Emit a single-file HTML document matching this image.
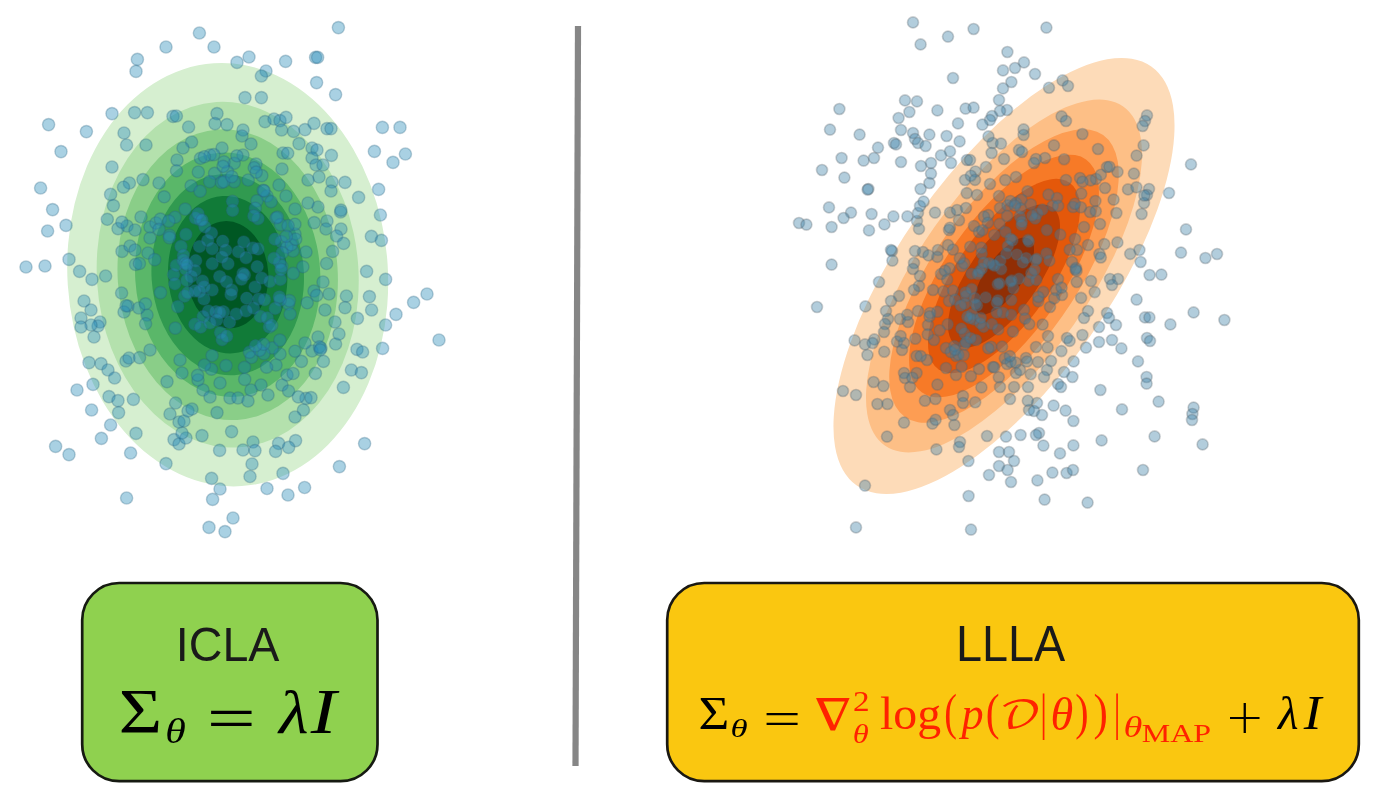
<!DOCTYPE html>
<html><head><meta charset="utf-8"><title>ICLA vs LLLA</title>
<style>
html,body{margin:0;padding:0;background:#fff;}
body{width:1387px;height:800px;overflow:hidden;}
svg{display:block;}
.sans{font-family:"Liberation Sans","DejaVu Sans",sans-serif;}
.serif{font-family:"Liberation Serif","DejaVu Serif",serif;}
.it{font-style:italic;}
.light{font-family:"DejaVu Sans Light","DejaVu Sans",sans-serif;font-weight:200;}
.math{font-family:"DejaVu Math TeX Gyre","Liberation Serif",serif;}
</style></head><body>
<svg width="1387" height="800" viewBox="0 0 1387 800">
<rect width="1387" height="800" fill="#ffffff"/>
<!-- left: ICLA contours -->
<g>
<ellipse cx="227.7" cy="274.7" rx="211.88" ry="160.24" fill="#d6efd0" transform="rotate(86.241 227.7 274.7)"/>
<ellipse cx="227.7" cy="274.7" rx="173.00" ry="130.83" fill="#b4e1ad" transform="rotate(86.241 227.7 274.7)"/>
<ellipse cx="227.7" cy="274.7" rx="145.52" ry="110.05" fill="#8ace88" transform="rotate(86.241 227.7 274.7)"/>
<ellipse cx="227.7" cy="274.7" rx="122.33" ry="92.51" fill="#5ab769" transform="rotate(86.241 227.7 274.7)"/>
<ellipse cx="227.7" cy="274.7" rx="100.73" ry="76.18" fill="#319a50" transform="rotate(86.241 227.7 274.7)"/>
<ellipse cx="227.7" cy="274.7" rx="78.81" ry="59.60" fill="#117b38" transform="rotate(86.241 227.7 274.7)"/>
<ellipse cx="227.7" cy="274.7" rx="53.69" ry="40.61" fill="#005723" transform="rotate(86.241 227.7 274.7)"/>
</g>
<g fill="rgba(40,140,185,0.40)" stroke="rgba(40,100,130,0.30)" stroke-width="1.4">
<circle cx="199.4" cy="33.0" r="6.1"/>
<circle cx="166.0" cy="47.0" r="6.1"/>
<circle cx="214.0" cy="47.0" r="6.1"/>
<circle cx="137.4" cy="59.4" r="6.1"/>
<circle cx="136.0" cy="71.4" r="6.1"/>
<circle cx="237.0" cy="62.4" r="6.1"/>
<circle cx="249.0" cy="57.0" r="6.1"/>
<circle cx="245.0" cy="97.6" r="6.1"/>
<circle cx="112.0" cy="113.6" r="6.1"/>
<circle cx="134.6" cy="112.6" r="6.1"/>
<circle cx="147.4" cy="112.6" r="6.1"/>
<circle cx="173.0" cy="116.4" r="6.1"/>
<circle cx="176.4" cy="116.0" r="6.1"/>
<circle cx="48.6" cy="124.6" r="6.1"/>
<circle cx="86.4" cy="131.6" r="6.1"/>
<circle cx="124.0" cy="133.0" r="6.1"/>
<circle cx="126.6" cy="145.0" r="6.1"/>
<circle cx="146.0" cy="145.0" r="6.1"/>
<circle cx="61.0" cy="151.6" r="6.1"/>
<circle cx="188.6" cy="127.0" r="6.1"/>
<circle cx="217.0" cy="113.6" r="6.1"/>
<circle cx="215.0" cy="123.6" r="6.1"/>
<circle cx="227.0" cy="124.6" r="6.1"/>
<circle cx="191.6" cy="142.0" r="6.1"/>
<circle cx="183.0" cy="148.0" r="6.1"/>
<circle cx="222.0" cy="148.0" r="6.1"/>
<circle cx="210.0" cy="155.0" r="6.1"/>
<circle cx="112.0" cy="167.0" r="6.1"/>
<circle cx="243.0" cy="130.0" r="6.1"/>
<circle cx="242.0" cy="136.0" r="6.1"/>
<circle cx="177.0" cy="160.0" r="6.1"/>
<circle cx="243.0" cy="155.0" r="6.1"/>
<circle cx="338.4" cy="27.6" r="6.1"/>
<circle cx="285.6" cy="61.4" r="6.1"/>
<circle cx="315.6" cy="57.4" r="6.1"/>
<circle cx="317.6" cy="57.4" r="6.1"/>
<circle cx="266.0" cy="71.0" r="6.1"/>
<circle cx="261.4" cy="76.0" r="6.1"/>
<circle cx="316.6" cy="82.6" r="6.1"/>
<circle cx="335.6" cy="94.6" r="6.1"/>
<circle cx="261.4" cy="97.6" r="6.1"/>
<circle cx="382.4" cy="127.4" r="6.1"/>
<circle cx="400.0" cy="127.4" r="6.1"/>
<circle cx="374.4" cy="151.4" r="6.1"/>
<circle cx="405.4" cy="154.0" r="6.1"/>
<circle cx="393.0" cy="162.4" r="6.1"/>
<circle cx="265.0" cy="121.6" r="6.1"/>
<circle cx="274.0" cy="119.0" r="6.1"/>
<circle cx="280.0" cy="120.6" r="6.1"/>
<circle cx="286.0" cy="117.4" r="6.1"/>
<circle cx="281.6" cy="130.0" r="6.1"/>
<circle cx="293.6" cy="131.4" r="6.1"/>
<circle cx="305.0" cy="129.6" r="6.1"/>
<circle cx="314.0" cy="123.4" r="6.1"/>
<circle cx="327.0" cy="128.6" r="6.1"/>
<circle cx="331.0" cy="128.6" r="6.1"/>
<circle cx="299.0" cy="143.6" r="6.1"/>
<circle cx="283.0" cy="153.0" r="6.1"/>
<circle cx="312.0" cy="148.0" r="6.1"/>
<circle cx="317.0" cy="150.0" r="6.1"/>
<circle cx="312.0" cy="158.0" r="6.1"/>
<circle cx="331.4" cy="155.4" r="6.1"/>
<circle cx="316.0" cy="165.0" r="6.1"/>
<circle cx="323.0" cy="165.0" r="6.1"/>
<circle cx="251.0" cy="144.0" r="6.1"/>
<circle cx="256.0" cy="164.0" r="6.1"/>
<circle cx="282.0" cy="169.0" r="6.1"/>
<circle cx="40.6" cy="188.0" r="6.1"/>
<circle cx="52.6" cy="209.6" r="6.1"/>
<circle cx="47.6" cy="231.0" r="6.1"/>
<circle cx="66.0" cy="225.4" r="6.1"/>
<circle cx="26.0" cy="267.0" r="6.1"/>
<circle cx="45.0" cy="266.0" r="6.1"/>
<circle cx="69.0" cy="259.4" r="6.1"/>
<circle cx="79.6" cy="271.4" r="6.1"/>
<circle cx="92.0" cy="279.4" r="6.1"/>
<circle cx="105.6" cy="276.0" r="6.1"/>
<circle cx="84.0" cy="301.0" r="6.1"/>
<circle cx="91.0" cy="310.0" r="6.1"/>
<circle cx="81.0" cy="318.0" r="6.1"/>
<circle cx="100.0" cy="322.0" r="6.1"/>
<circle cx="98.0" cy="326.0" r="6.1"/>
<circle cx="91.0" cy="325.0" r="6.1"/>
<circle cx="81.0" cy="327.0" r="6.1"/>
<circle cx="110.6" cy="194.4" r="6.1"/>
<circle cx="113.4" cy="205.6" r="6.1"/>
<circle cx="129.4" cy="183.0" r="6.1"/>
<circle cx="143.0" cy="179.6" r="6.1"/>
<circle cx="159.0" cy="183.0" r="6.1"/>
<circle cx="118.0" cy="228.6" r="6.1"/>
<circle cx="127.0" cy="226.0" r="6.1"/>
<circle cx="135.0" cy="230.0" r="6.1"/>
<circle cx="141.0" cy="217.0" r="6.1"/>
<circle cx="150.0" cy="227.0" r="6.1"/>
<circle cx="122.0" cy="251.4" r="6.1"/>
<circle cx="130.0" cy="246.0" r="6.1"/>
<circle cx="135.0" cy="250.0" r="6.1"/>
<circle cx="148.0" cy="253.0" r="6.1"/>
<circle cx="121.6" cy="293.0" r="6.1"/>
<circle cx="128.0" cy="306.0" r="6.1"/>
<circle cx="124.0" cy="312.0" r="6.1"/>
<circle cx="147.0" cy="315.0" r="6.1"/>
<circle cx="150.0" cy="238.0" r="6.1"/>
<circle cx="156.0" cy="223.0" r="6.1"/>
<circle cx="378.6" cy="189.4" r="6.1"/>
<circle cx="358.6" cy="197.4" r="6.1"/>
<circle cx="345.0" cy="182.4" r="6.1"/>
<circle cx="332.0" cy="182.0" r="6.1"/>
<circle cx="331.0" cy="191.0" r="6.1"/>
<circle cx="319.0" cy="177.0" r="6.1"/>
<circle cx="308.0" cy="180.0" r="6.1"/>
<circle cx="380.4" cy="215.0" r="6.1"/>
<circle cx="340.6" cy="212.0" r="6.1"/>
<circle cx="318.0" cy="207.0" r="6.1"/>
<circle cx="308.0" cy="203.0" r="6.1"/>
<circle cx="327.0" cy="221.0" r="6.1"/>
<circle cx="326.0" cy="229.0" r="6.1"/>
<circle cx="341.0" cy="229.0" r="6.1"/>
<circle cx="336.6" cy="236.0" r="6.1"/>
<circle cx="343.6" cy="243.4" r="6.1"/>
<circle cx="332.6" cy="251.4" r="6.1"/>
<circle cx="371.4" cy="236.4" r="6.1"/>
<circle cx="381.4" cy="240.4" r="6.1"/>
<circle cx="366.6" cy="271.4" r="6.1"/>
<circle cx="385.6" cy="279.4" r="6.1"/>
<circle cx="427.0" cy="294.0" r="6.1"/>
<circle cx="413.6" cy="302.4" r="6.1"/>
<circle cx="396.0" cy="314.4" r="6.1"/>
<circle cx="385.6" cy="325.0" r="6.1"/>
<circle cx="369.4" cy="296.6" r="6.1"/>
<circle cx="371.6" cy="310.0" r="6.1"/>
<circle cx="357.4" cy="318.4" r="6.1"/>
<circle cx="346.4" cy="296.0" r="6.1"/>
<circle cx="345.0" cy="307.6" r="6.1"/>
<circle cx="323.0" cy="282.0" r="6.1"/>
<circle cx="314.0" cy="291.0" r="6.1"/>
<circle cx="329.0" cy="294.0" r="6.1"/>
<circle cx="325.0" cy="310.0" r="6.1"/>
<circle cx="335.0" cy="322.0" r="6.1"/>
<circle cx="295.0" cy="209.0" r="6.1"/>
<circle cx="286.0" cy="196.0" r="6.1"/>
<circle cx="279.0" cy="185.0" r="6.1"/>
<circle cx="306.0" cy="252.0" r="6.1"/>
<circle cx="293.0" cy="251.0" r="6.1"/>
<circle cx="295.0" cy="234.0" r="6.1"/>
<circle cx="276.0" cy="218.0" r="6.1"/>
<circle cx="267.0" cy="196.0" r="6.1"/>
<circle cx="94.0" cy="337.0" r="6.1"/>
<circle cx="89.0" cy="362.6" r="6.1"/>
<circle cx="101.0" cy="363.6" r="6.1"/>
<circle cx="108.0" cy="370.0" r="6.1"/>
<circle cx="114.6" cy="378.0" r="6.1"/>
<circle cx="93.0" cy="384.4" r="6.1"/>
<circle cx="77.0" cy="390.0" r="6.1"/>
<circle cx="109.0" cy="396.6" r="6.1"/>
<circle cx="118.0" cy="400.6" r="6.1"/>
<circle cx="133.4" cy="399.4" r="6.1"/>
<circle cx="91.6" cy="410.0" r="6.1"/>
<circle cx="118.6" cy="412.6" r="6.1"/>
<circle cx="110.6" cy="425.0" r="6.1"/>
<circle cx="101.4" cy="438.4" r="6.1"/>
<circle cx="136.0" cy="433.4" r="6.1"/>
<circle cx="55.6" cy="446.4" r="6.1"/>
<circle cx="69.0" cy="454.6" r="6.1"/>
<circle cx="130.6" cy="453.0" r="6.1"/>
<circle cx="166.0" cy="463.6" r="6.1"/>
<circle cx="211.6" cy="478.4" r="6.1"/>
<circle cx="220.0" cy="489.0" r="6.1"/>
<circle cx="252.0" cy="464.0" r="6.1"/>
<circle cx="250.0" cy="476.5" r="6.1"/>
<circle cx="219.6" cy="450.4" r="6.1"/>
<circle cx="243.0" cy="450.0" r="6.1"/>
<circle cx="202.0" cy="435.6" r="6.1"/>
<circle cx="231.6" cy="431.6" r="6.1"/>
<circle cx="174.0" cy="439.6" r="6.1"/>
<circle cx="179.0" cy="444.0" r="6.1"/>
<circle cx="186.0" cy="438.0" r="6.1"/>
<circle cx="182.0" cy="433.0" r="6.1"/>
<circle cx="179.0" cy="422.0" r="6.1"/>
<circle cx="184.0" cy="421.0" r="6.1"/>
<circle cx="170.0" cy="414.0" r="6.1"/>
<circle cx="188.0" cy="411.0" r="6.1"/>
<circle cx="192.0" cy="409.0" r="6.1"/>
<circle cx="175.6" cy="403.0" r="6.1"/>
<circle cx="217.0" cy="412.6" r="6.1"/>
<circle cx="167.0" cy="381.6" r="6.1"/>
<circle cx="126.0" cy="361.0" r="6.1"/>
<circle cx="129.0" cy="358.0" r="6.1"/>
<circle cx="139.6" cy="357.6" r="6.1"/>
<circle cx="150.0" cy="350.0" r="6.1"/>
<circle cx="203.0" cy="390.0" r="6.1"/>
<circle cx="210.0" cy="397.0" r="6.1"/>
<circle cx="230.0" cy="398.0" r="6.1"/>
<circle cx="238.0" cy="398.0" r="6.1"/>
<circle cx="248.0" cy="401.0" r="6.1"/>
<circle cx="220.0" cy="383.0" r="6.1"/>
<circle cx="182.0" cy="373.0" r="6.1"/>
<circle cx="180.0" cy="360.0" r="6.1"/>
<circle cx="439.0" cy="340.0" r="6.1"/>
<circle cx="382.6" cy="348.4" r="6.1"/>
<circle cx="357.0" cy="349.4" r="6.1"/>
<circle cx="362.6" cy="352.0" r="6.1"/>
<circle cx="351.4" cy="370.0" r="6.1"/>
<circle cx="361.4" cy="372.6" r="6.1"/>
<circle cx="343.4" cy="387.4" r="6.1"/>
<circle cx="335.6" cy="344.0" r="6.1"/>
<circle cx="339.0" cy="334.0" r="6.1"/>
<circle cx="323.4" cy="361.4" r="6.1"/>
<circle cx="315.4" cy="373.4" r="6.1"/>
<circle cx="301.4" cy="361.4" r="6.1"/>
<circle cx="312.0" cy="351.0" r="6.1"/>
<circle cx="321.0" cy="348.0" r="6.1"/>
<circle cx="305.0" cy="343.0" r="6.1"/>
<circle cx="318.0" cy="337.0" r="6.1"/>
<circle cx="287.0" cy="375.0" r="6.1"/>
<circle cx="282.0" cy="385.0" r="6.1"/>
<circle cx="288.6" cy="391.0" r="6.1"/>
<circle cx="268.0" cy="395.0" r="6.1"/>
<circle cx="261.0" cy="385.0" r="6.1"/>
<circle cx="306.0" cy="398.4" r="6.1"/>
<circle cx="311.0" cy="397.6" r="6.1"/>
<circle cx="303.4" cy="410.0" r="6.1"/>
<circle cx="295.0" cy="417.0" r="6.1"/>
<circle cx="364.6" cy="443.6" r="6.1"/>
<circle cx="339.4" cy="466.6" r="6.1"/>
<circle cx="295.6" cy="440.6" r="6.1"/>
<circle cx="278.6" cy="443.4" r="6.1"/>
<circle cx="288.6" cy="447.4" r="6.1"/>
<circle cx="275.6" cy="451.4" r="6.1"/>
<circle cx="253.0" cy="442.0" r="6.1"/>
<circle cx="255.0" cy="450.6" r="6.1"/>
<circle cx="283.0" cy="473.4" r="6.1"/>
<circle cx="267.0" cy="488.5" r="6.1"/>
<circle cx="304.6" cy="487.5" r="6.1"/>
<circle cx="288.0" cy="495.0" r="6.1"/>
<circle cx="251.0" cy="390.0" r="6.1"/>
<circle cx="276.0" cy="365.0" r="6.1"/>
<circle cx="280.0" cy="354.0" r="6.1"/>
<circle cx="212.6" cy="499.4" r="6.1"/>
<circle cx="126.6" cy="498.0" r="6.1"/>
<circle cx="233.0" cy="518.0" r="6.1"/>
<circle cx="209.0" cy="527.4" r="6.1"/>
<circle cx="225.0" cy="531.6" r="6.1"/>
<circle cx="211.5" cy="233.0" r="6.1"/>
<circle cx="222.7" cy="241.2" r="6.1"/>
<circle cx="243.7" cy="242.0" r="6.1"/>
<circle cx="199.5" cy="246.5" r="6.1"/>
<circle cx="212.2" cy="248.7" r="6.1"/>
<circle cx="225.7" cy="250.2" r="6.1"/>
<circle cx="238.5" cy="251.7" r="6.1"/>
<circle cx="252.7" cy="248.0" r="6.1"/>
<circle cx="195.7" cy="260.7" r="6.1"/>
<circle cx="212.2" cy="263.7" r="6.1"/>
<circle cx="228.0" cy="263.7" r="6.1"/>
<circle cx="222.0" cy="257.0" r="6.1"/>
<circle cx="246.0" cy="257.7" r="6.1"/>
<circle cx="257.2" cy="266.7" r="6.1"/>
<circle cx="244.5" cy="275.0" r="6.1"/>
<circle cx="243.0" cy="273.5" r="6.1"/>
<circle cx="219.7" cy="276.5" r="6.1"/>
<circle cx="202.5" cy="281.0" r="6.1"/>
<circle cx="191.2" cy="276.5" r="6.1"/>
<circle cx="231.7" cy="290.0" r="6.1"/>
<circle cx="231.0" cy="294.5" r="6.1"/>
<circle cx="212.2" cy="290.0" r="6.1"/>
<circle cx="199.5" cy="291.5" r="6.1"/>
<circle cx="255.0" cy="287.0" r="6.1"/>
<circle cx="261.7" cy="278.0" r="6.1"/>
<circle cx="246.7" cy="298.2" r="6.1"/>
<circle cx="258.7" cy="299.0" r="6.1"/>
<circle cx="204.0" cy="299.0" r="6.1"/>
<circle cx="216.0" cy="311.7" r="6.1"/>
<circle cx="223.5" cy="311.7" r="6.1"/>
<circle cx="219.7" cy="312.5" r="6.1"/>
<circle cx="236.2" cy="314.0" r="6.1"/>
<circle cx="246.0" cy="311.0" r="6.1"/>
<circle cx="208.5" cy="311.0" r="6.1"/>
<circle cx="229.5" cy="322.2" r="6.1"/>
<circle cx="216.7" cy="320.0" r="6.1"/>
<circle cx="253.5" cy="308.0" r="6.1"/>
<circle cx="195.0" cy="270.5" r="6.1"/>
<circle cx="207.7" cy="240.5" r="6.1"/>
<circle cx="226.5" cy="281.7" r="6.1"/>
<circle cx="121.9" cy="222.1" r="6.1"/>
<circle cx="107.3" cy="219.3" r="6.1"/>
<circle cx="287.7" cy="153.2" r="6.1"/>
<circle cx="340.9" cy="210.1" r="6.1"/>
<circle cx="298.4" cy="396.9" r="6.1"/>
<circle cx="123.5" cy="187.2" r="6.1"/>
<circle cx="319.5" cy="346.9" r="6.1"/>
<circle cx="126.1" cy="305.7" r="6.1"/>
<circle cx="138.7" cy="308.0" r="6.1"/>
<circle cx="314.2" cy="222.6" r="6.1"/>
<circle cx="326.6" cy="263.5" r="6.1"/>
<circle cx="320.3" cy="349.8" r="6.1"/>
<circle cx="293.1" cy="373.5" r="6.1"/>
<circle cx="266.6" cy="367.2" r="6.1"/>
<circle cx="214.6" cy="173.3" r="6.1"/>
<circle cx="316.7" cy="295.4" r="6.1"/>
<circle cx="145.6" cy="323.7" r="6.1"/>
<circle cx="234.2" cy="163.3" r="6.1"/>
<circle cx="200.5" cy="158.3" r="6.1"/>
<circle cx="227.5" cy="171.6" r="6.1"/>
<circle cx="145.5" cy="303.8" r="6.1"/>
<circle cx="160.4" cy="219.1" r="6.1"/>
<circle cx="295.0" cy="351.2" r="6.1"/>
<circle cx="135.6" cy="264.4" r="6.1"/>
<circle cx="213.8" cy="154.6" r="6.1"/>
<circle cx="236.9" cy="155.8" r="6.1"/>
<circle cx="244.7" cy="379.4" r="6.1"/>
<circle cx="198.0" cy="380.0" r="6.1"/>
<circle cx="204.4" cy="156.7" r="6.1"/>
<circle cx="197.6" cy="375.3" r="6.1"/>
<circle cx="254.2" cy="167.7" r="6.1"/>
<circle cx="176.5" cy="170.8" r="6.1"/>
<circle cx="294.9" cy="224.2" r="6.1"/>
<circle cx="224.0" cy="161.9" r="6.1"/>
<circle cx="164.2" cy="196.8" r="6.1"/>
<circle cx="261.8" cy="175.6" r="6.1"/>
<circle cx="139.4" cy="263.5" r="6.1"/>
<circle cx="223.1" cy="166.3" r="6.1"/>
<circle cx="198.3" cy="172.0" r="6.1"/>
<circle cx="307.2" cy="302.8" r="6.1"/>
<circle cx="256.2" cy="172.1" r="6.1"/>
<circle cx="251.5" cy="357.5" r="6.1"/>
<circle cx="212.1" cy="355.5" r="6.1"/>
<circle cx="160.5" cy="292.6" r="6.1"/>
<circle cx="248.2" cy="180.0" r="6.1"/>
<circle cx="263.2" cy="190.4" r="6.1"/>
<circle cx="169.5" cy="235.3" r="6.1"/>
<circle cx="302.9" cy="266.8" r="6.1"/>
<circle cx="280.5" cy="224.6" r="6.1"/>
<circle cx="272.2" cy="347.9" r="6.1"/>
<circle cx="281.4" cy="241.9" r="6.1"/>
<circle cx="169.4" cy="237.6" r="6.1"/>
<circle cx="185.2" cy="209.1" r="6.1"/>
<circle cx="211.4" cy="369.2" r="6.1"/>
<circle cx="175.0" cy="217.2" r="6.1"/>
<circle cx="279.9" cy="340.1" r="6.1"/>
<circle cx="286.8" cy="247.2" r="6.1"/>
<circle cx="175.3" cy="328.1" r="6.1"/>
<circle cx="271.1" cy="201.7" r="6.1"/>
<circle cx="191.1" cy="185.8" r="6.1"/>
<circle cx="221.5" cy="182.4" r="6.1"/>
<circle cx="277.4" cy="217.1" r="6.1"/>
<circle cx="288.1" cy="225.7" r="6.1"/>
<circle cx="288.5" cy="304.0" r="6.1"/>
<circle cx="154.7" cy="259.6" r="6.1"/>
<circle cx="263.9" cy="353.6" r="6.1"/>
<circle cx="226.0" cy="365.6" r="6.1"/>
<circle cx="249.5" cy="352.1" r="6.1"/>
<circle cx="259.7" cy="350.3" r="6.1"/>
<circle cx="244.5" cy="367.3" r="6.1"/>
<circle cx="291.3" cy="244.8" r="6.1"/>
<circle cx="263.5" cy="344.2" r="6.1"/>
<circle cx="209.7" cy="181.6" r="6.1"/>
<circle cx="234.2" cy="181.6" r="6.1"/>
<circle cx="264.1" cy="190.9" r="6.1"/>
<circle cx="257.0" cy="200.8" r="6.1"/>
<circle cx="293.2" cy="273.4" r="6.1"/>
<circle cx="204.4" cy="365.0" r="6.1"/>
<circle cx="200.1" cy="191.2" r="6.1"/>
<circle cx="159.0" cy="229.4" r="6.1"/>
<circle cx="295.7" cy="239.2" r="6.1"/>
<circle cx="290.1" cy="314.0" r="6.1"/>
<circle cx="289.4" cy="300.6" r="6.1"/>
<circle cx="286.3" cy="236.3" r="6.1"/>
<circle cx="223.8" cy="181.8" r="6.1"/>
<circle cx="168.8" cy="221.1" r="6.1"/>
<circle cx="231.8" cy="176.6" r="6.1"/>
<circle cx="269.9" cy="281.5" r="6.1"/>
<circle cx="181.0" cy="246.4" r="6.1"/>
<circle cx="184.6" cy="296.1" r="6.1"/>
<circle cx="185.9" cy="234.4" r="6.1"/>
<circle cx="280.1" cy="300.0" r="6.1"/>
<circle cx="177.8" cy="306.6" r="6.1"/>
<circle cx="185.9" cy="269.3" r="6.1"/>
<circle cx="260.4" cy="316.4" r="6.1"/>
<circle cx="232.5" cy="201.3" r="6.1"/>
<circle cx="203.1" cy="316.6" r="6.1"/>
<circle cx="264.5" cy="299.6" r="6.1"/>
<circle cx="200.3" cy="220.0" r="6.1"/>
<circle cx="220.5" cy="332.6" r="6.1"/>
<circle cx="281.8" cy="266.2" r="6.1"/>
<circle cx="279.6" cy="262.6" r="6.1"/>
<circle cx="173.6" cy="274.6" r="6.1"/>
<circle cx="280.3" cy="279.5" r="6.1"/>
<circle cx="204.8" cy="226.8" r="6.1"/>
<circle cx="176.3" cy="265.3" r="6.1"/>
<circle cx="187.7" cy="292.7" r="6.1"/>
<circle cx="195.5" cy="218.2" r="6.1"/>
<circle cx="183.4" cy="255.4" r="6.1"/>
<circle cx="279.3" cy="296.9" r="6.1"/>
<circle cx="198.1" cy="213.7" r="6.1"/>
<circle cx="202.1" cy="220.0" r="6.1"/>
<circle cx="282.2" cy="252.8" r="6.1"/>
<circle cx="281.0" cy="269.6" r="6.1"/>
<circle cx="274.0" cy="258.3" r="6.1"/>
<circle cx="267.3" cy="317.9" r="6.1"/>
<circle cx="255.5" cy="345.7" r="6.1"/>
<circle cx="275.2" cy="308.4" r="6.1"/>
<circle cx="183.2" cy="260.2" r="6.1"/>
<circle cx="194.8" cy="324.2" r="6.1"/>
<circle cx="222.1" cy="339.7" r="6.1"/>
<circle cx="185.3" cy="263.4" r="6.1"/>
<circle cx="174.8" cy="283.8" r="6.1"/>
<circle cx="255.3" cy="208.2" r="6.1"/>
<circle cx="258.1" cy="218.7" r="6.1"/>
<circle cx="269.3" cy="327.0" r="6.1"/>
<circle cx="200.6" cy="327.2" r="6.1"/>
<circle cx="274.9" cy="239.2" r="6.1"/>
<circle cx="226.7" cy="336.2" r="6.1"/>
<circle cx="209.9" cy="322.9" r="6.1"/>
<circle cx="186.9" cy="280.4" r="6.1"/>
<circle cx="271.6" cy="325.2" r="6.1"/>
<circle cx="232.6" cy="210.4" r="6.1"/>
<circle cx="253.8" cy="215.9" r="6.1"/>
<circle cx="187.0" cy="264.7" r="6.1"/>
<circle cx="258.1" cy="248.9" r="6.1"/>
<circle cx="204.1" cy="286.8" r="6.1"/>
<circle cx="195.1" cy="290.9" r="6.1"/>
<circle cx="241.5" cy="279.1" r="6.1"/>
</g>
<!-- divider -->
<line x1="578" y1="26" x2="575.5" y2="766" stroke="#868686" stroke-width="6.2"/>
<!-- right: LLLA contours -->
<g>
<ellipse cx="1004" cy="276" rx="256.09" ry="105.10" fill="#fddbb8" transform="rotate(125.109 1004 276)"/>
<ellipse cx="1004" cy="276" rx="207.24" ry="85.05" fill="#fdbf86" transform="rotate(125.109 1004 276)"/>
<ellipse cx="1004" cy="276" rx="172.35" ry="70.74" fill="#fd9d53" transform="rotate(125.109 1004 276)"/>
<ellipse cx="1004" cy="276" rx="142.52" ry="58.49" fill="#f77a27" transform="rotate(125.109 1004 276)"/>
<ellipse cx="1004" cy="276" rx="114.12" ry="46.84" fill="#e4580a" transform="rotate(125.109 1004 276)"/>
<ellipse cx="1004" cy="276" rx="84.08" ry="34.51" fill="#be3f02" transform="rotate(125.109 1004 276)"/>
<ellipse cx="1004" cy="276" rx="45.11" ry="18.51" fill="#912e04" transform="rotate(125.109 1004 276)"/>
</g>
<g fill="rgba(62,130,168,0.40)" stroke="rgba(90,100,105,0.30)" stroke-width="1.6">
<circle cx="913.0" cy="22.4" r="5.5"/>
<circle cx="973.6" cy="29.0" r="5.5"/>
<circle cx="948.0" cy="36.6" r="5.5"/>
<circle cx="920.6" cy="44.4" r="5.5"/>
<circle cx="1007.4" cy="52.0" r="5.5"/>
<circle cx="1024.0" cy="62.4" r="5.5"/>
<circle cx="1015.0" cy="68.0" r="5.5"/>
<circle cx="1003.0" cy="70.4" r="5.5"/>
<circle cx="953.0" cy="78.0" r="5.5"/>
<circle cx="1011.4" cy="82.0" r="5.5"/>
<circle cx="1003.0" cy="88.4" r="5.5"/>
<circle cx="999.0" cy="100.0" r="5.5"/>
<circle cx="905.0" cy="100.4" r="5.5"/>
<circle cx="917.0" cy="101.4" r="5.5"/>
<circle cx="839.4" cy="109.0" r="5.5"/>
<circle cx="909.4" cy="112.0" r="5.5"/>
<circle cx="937.4" cy="110.4" r="5.5"/>
<circle cx="965.6" cy="108.6" r="5.5"/>
<circle cx="973.6" cy="107.6" r="5.5"/>
<circle cx="1007.0" cy="110.0" r="5.5"/>
<circle cx="1000.0" cy="111.0" r="5.5"/>
<circle cx="992.0" cy="116.0" r="5.5"/>
<circle cx="990.0" cy="120.0" r="5.5"/>
<circle cx="982.4" cy="124.6" r="5.5"/>
<circle cx="898.6" cy="118.0" r="5.5"/>
<circle cx="958.0" cy="123.4" r="5.5"/>
<circle cx="830.0" cy="129.6" r="5.5"/>
<circle cx="901.0" cy="130.0" r="5.5"/>
<circle cx="859.6" cy="134.6" r="5.5"/>
<circle cx="913.0" cy="133.0" r="5.5"/>
<circle cx="929.4" cy="134.6" r="5.5"/>
<circle cx="946.6" cy="136.0" r="5.5"/>
<circle cx="915.0" cy="139.0" r="5.5"/>
<circle cx="918.0" cy="143.0" r="5.5"/>
<circle cx="959.6" cy="141.4" r="5.5"/>
<circle cx="894.0" cy="143.0" r="5.5"/>
<circle cx="896.0" cy="144.4" r="5.5"/>
<circle cx="878.0" cy="147.6" r="5.5"/>
<circle cx="925.6" cy="146.0" r="5.5"/>
<circle cx="950.0" cy="151.4" r="5.5"/>
<circle cx="941.0" cy="155.4" r="5.5"/>
<circle cx="841.6" cy="158.0" r="5.5"/>
<circle cx="863.6" cy="160.6" r="5.5"/>
<circle cx="874.0" cy="158.0" r="5.5"/>
<circle cx="901.0" cy="162.0" r="5.5"/>
<circle cx="931.0" cy="163.0" r="5.5"/>
<circle cx="921.0" cy="166.0" r="5.5"/>
<circle cx="951.0" cy="163.0" r="5.5"/>
<circle cx="822.0" cy="170.0" r="5.5"/>
<circle cx="967.0" cy="160.0" r="5.5"/>
<circle cx="970.0" cy="160.0" r="5.5"/>
<circle cx="992.6" cy="143.0" r="5.5"/>
<circle cx="1001.0" cy="143.6" r="5.5"/>
<circle cx="991.6" cy="153.0" r="5.5"/>
<circle cx="1004.0" cy="159.0" r="5.5"/>
<circle cx="1023.6" cy="129.4" r="5.5"/>
<circle cx="1023.6" cy="135.0" r="5.5"/>
<circle cx="1019.0" cy="150.0" r="5.5"/>
<circle cx="1022.0" cy="152.0" r="5.5"/>
<circle cx="986.0" cy="167.0" r="5.5"/>
<circle cx="1035.0" cy="74.0" r="5.5"/>
<circle cx="1046.4" cy="27.6" r="5.5"/>
<circle cx="1062.6" cy="80.4" r="5.5"/>
<circle cx="1068.0" cy="86.0" r="5.5"/>
<circle cx="1061.6" cy="116.4" r="5.5"/>
<circle cx="1066.0" cy="121.0" r="5.5"/>
<circle cx="1082.4" cy="134.0" r="5.5"/>
<circle cx="1054.0" cy="145.4" r="5.5"/>
<circle cx="1098.0" cy="149.0" r="5.5"/>
<circle cx="1147.0" cy="115.4" r="5.5"/>
<circle cx="1145.0" cy="121.0" r="5.5"/>
<circle cx="1142.6" cy="126.0" r="5.5"/>
<circle cx="1143.6" cy="145.4" r="5.5"/>
<circle cx="1136.6" cy="155.6" r="5.5"/>
<circle cx="1191.0" cy="164.4" r="5.5"/>
<circle cx="1107.0" cy="167.0" r="5.5"/>
<circle cx="1045.0" cy="158.0" r="5.5"/>
<circle cx="1036.0" cy="159.0" r="5.5"/>
<circle cx="1034.0" cy="163.0" r="5.5"/>
<circle cx="844.4" cy="177.6" r="5.5"/>
<circle cx="868.4" cy="189.0" r="5.5"/>
<circle cx="867.6" cy="189.6" r="5.5"/>
<circle cx="829.0" cy="207.4" r="5.5"/>
<circle cx="851.0" cy="212.6" r="5.5"/>
<circle cx="843.6" cy="218.0" r="5.5"/>
<circle cx="871.6" cy="214.0" r="5.5"/>
<circle cx="799.0" cy="223.0" r="5.5"/>
<circle cx="806.4" cy="224.6" r="5.5"/>
<circle cx="831.6" cy="227.0" r="5.5"/>
<circle cx="869.0" cy="230.4" r="5.5"/>
<circle cx="884.4" cy="224.4" r="5.5"/>
<circle cx="893.4" cy="216.4" r="5.5"/>
<circle cx="907.4" cy="216.4" r="5.5"/>
<circle cx="917.0" cy="221.0" r="5.5"/>
<circle cx="918.0" cy="213.0" r="5.5"/>
<circle cx="920.0" cy="206.0" r="5.5"/>
<circle cx="923.6" cy="201.6" r="5.5"/>
<circle cx="920.6" cy="189.0" r="5.5"/>
<circle cx="929.4" cy="183.0" r="5.5"/>
<circle cx="931.0" cy="173.6" r="5.5"/>
<circle cx="831.6" cy="264.6" r="5.5"/>
<circle cx="892.0" cy="251.0" r="5.5"/>
<circle cx="891.0" cy="250.0" r="5.5"/>
<circle cx="892.4" cy="260.6" r="5.5"/>
<circle cx="879.0" cy="282.0" r="5.5"/>
<circle cx="817.0" cy="307.0" r="5.5"/>
<circle cx="915.0" cy="251.0" r="5.5"/>
<circle cx="923.0" cy="252.0" r="5.5"/>
<circle cx="914.0" cy="263.0" r="5.5"/>
<circle cx="913.0" cy="269.0" r="5.5"/>
<circle cx="920.0" cy="276.0" r="5.5"/>
<circle cx="919.0" cy="286.0" r="5.5"/>
<circle cx="914.0" cy="290.0" r="5.5"/>
<circle cx="899.0" cy="296.0" r="5.5"/>
<circle cx="891.0" cy="301.0" r="5.5"/>
<circle cx="886.0" cy="311.0" r="5.5"/>
<circle cx="888.0" cy="319.0" r="5.5"/>
<circle cx="885.0" cy="324.0" r="5.5"/>
<circle cx="900.0" cy="319.0" r="5.5"/>
<circle cx="908.0" cy="322.0" r="5.5"/>
<circle cx="933.0" cy="290.0" r="5.5"/>
<circle cx="918.0" cy="311.0" r="5.5"/>
<circle cx="930.0" cy="313.0" r="5.5"/>
<circle cx="928.0" cy="325.0" r="5.5"/>
<circle cx="941.0" cy="274.0" r="5.5"/>
<circle cx="938.0" cy="250.0" r="5.5"/>
<circle cx="948.0" cy="245.0" r="5.5"/>
<circle cx="949.0" cy="230.0" r="5.5"/>
<circle cx="935.0" cy="212.6" r="5.5"/>
<circle cx="950.0" cy="212.6" r="5.5"/>
<circle cx="957.0" cy="210.0" r="5.5"/>
<circle cx="966.0" cy="208.0" r="5.5"/>
<circle cx="965.0" cy="180.0" r="5.5"/>
<circle cx="977.0" cy="195.0" r="5.5"/>
<circle cx="990.0" cy="184.0" r="5.5"/>
<circle cx="999.0" cy="196.0" r="5.5"/>
<circle cx="1016.0" cy="177.0" r="5.5"/>
<circle cx="1016.0" cy="203.0" r="5.5"/>
<circle cx="1000.0" cy="208.0" r="5.5"/>
<circle cx="974.0" cy="226.0" r="5.5"/>
<circle cx="979.0" cy="232.0" r="5.5"/>
<circle cx="962.0" cy="266.0" r="5.5"/>
<circle cx="949.0" cy="301.0" r="5.5"/>
<circle cx="966.0" cy="296.0" r="5.5"/>
<circle cx="972.0" cy="314.0" r="5.5"/>
<circle cx="1169.0" cy="193.0" r="5.5"/>
<circle cx="1149.0" cy="189.0" r="5.5"/>
<circle cx="1147.0" cy="195.0" r="5.5"/>
<circle cx="1144.0" cy="203.0" r="5.5"/>
<circle cx="1141.6" cy="214.0" r="5.5"/>
<circle cx="1128.0" cy="189.4" r="5.5"/>
<circle cx="1186.0" cy="229.4" r="5.5"/>
<circle cx="1181.0" cy="252.6" r="5.5"/>
<circle cx="1205.4" cy="258.0" r="5.5"/>
<circle cx="1217.0" cy="254.0" r="5.5"/>
<circle cx="1139.4" cy="250.0" r="5.5"/>
<circle cx="1140.6" cy="262.0" r="5.5"/>
<circle cx="1149.6" cy="275.0" r="5.5"/>
<circle cx="1161.4" cy="274.6" r="5.5"/>
<circle cx="1136.6" cy="299.6" r="5.5"/>
<circle cx="1193.6" cy="312.4" r="5.5"/>
<circle cx="1224.4" cy="320.0" r="5.5"/>
<circle cx="1145.0" cy="317.4" r="5.5"/>
<circle cx="1149.4" cy="317.4" r="5.5"/>
<circle cx="1170.4" cy="324.4" r="5.5"/>
<circle cx="1117.4" cy="242.4" r="5.5"/>
<circle cx="1116.4" cy="213.0" r="5.5"/>
<circle cx="1113.6" cy="199.6" r="5.5"/>
<circle cx="1105.0" cy="188.0" r="5.5"/>
<circle cx="1096.0" cy="179.0" r="5.5"/>
<circle cx="1095.4" cy="201.0" r="5.5"/>
<circle cx="1100.0" cy="224.0" r="5.5"/>
<circle cx="1090.0" cy="212.0" r="5.5"/>
<circle cx="1084.0" cy="227.0" r="5.5"/>
<circle cx="1088.0" cy="245.0" r="5.5"/>
<circle cx="1099.4" cy="254.0" r="5.5"/>
<circle cx="1091.0" cy="281.0" r="5.5"/>
<circle cx="1110.0" cy="279.0" r="5.5"/>
<circle cx="1118.0" cy="279.0" r="5.5"/>
<circle cx="1112.0" cy="285.0" r="5.5"/>
<circle cx="1088.0" cy="311.0" r="5.5"/>
<circle cx="1084.0" cy="318.0" r="5.5"/>
<circle cx="1107.0" cy="313.0" r="5.5"/>
<circle cx="1109.0" cy="318.0" r="5.5"/>
<circle cx="1116.0" cy="325.0" r="5.5"/>
<circle cx="1099.0" cy="327.0" r="5.5"/>
<circle cx="1050.0" cy="307.0" r="5.5"/>
<circle cx="1062.0" cy="295.0" r="5.5"/>
<circle cx="1076.0" cy="268.0" r="5.5"/>
<circle cx="1072.0" cy="262.0" r="5.5"/>
<circle cx="1077.0" cy="250.0" r="5.5"/>
<circle cx="1075.0" cy="239.0" r="5.5"/>
<circle cx="1057.0" cy="198.0" r="5.5"/>
<circle cx="1080.0" cy="178.0" r="5.5"/>
<circle cx="1066.0" cy="180.0" r="5.5"/>
<circle cx="1073.0" cy="207.0" r="5.5"/>
<circle cx="1058.0" cy="279.0" r="5.5"/>
<circle cx="1056.0" cy="290.0" r="5.5"/>
<circle cx="854.6" cy="340.4" r="5.5"/>
<circle cx="865.0" cy="344.4" r="5.5"/>
<circle cx="874.4" cy="339.4" r="5.5"/>
<circle cx="867.4" cy="355.0" r="5.5"/>
<circle cx="884.0" cy="332.0" r="5.5"/>
<circle cx="843.0" cy="391.0" r="5.5"/>
<circle cx="856.0" cy="395.0" r="5.5"/>
<circle cx="873.6" cy="382.0" r="5.5"/>
<circle cx="883.4" cy="386.0" r="5.5"/>
<circle cx="877.4" cy="404.0" r="5.5"/>
<circle cx="887.4" cy="404.0" r="5.5"/>
<circle cx="887.0" cy="436.6" r="5.5"/>
<circle cx="904.0" cy="422.6" r="5.5"/>
<circle cx="932.4" cy="423.6" r="5.5"/>
<circle cx="954.4" cy="425.0" r="5.5"/>
<circle cx="936.4" cy="449.4" r="5.5"/>
<circle cx="960.0" cy="442.0" r="5.5"/>
<circle cx="959.0" cy="447.0" r="5.5"/>
<circle cx="865.0" cy="485.6" r="5.5"/>
<circle cx="968.4" cy="461.0" r="5.5"/>
<circle cx="987.0" cy="436.0" r="5.5"/>
<circle cx="1006.0" cy="436.6" r="5.5"/>
<circle cx="1020.6" cy="435.0" r="5.5"/>
<circle cx="999.0" cy="452.0" r="5.5"/>
<circle cx="1009.0" cy="452.0" r="5.5"/>
<circle cx="1014.0" cy="461.0" r="5.5"/>
<circle cx="999.0" cy="466.0" r="5.5"/>
<circle cx="1007.6" cy="470.0" r="5.5"/>
<circle cx="989.0" cy="475.0" r="5.5"/>
<circle cx="1011.0" cy="482.0" r="5.5"/>
<circle cx="897.0" cy="341.6" r="5.5"/>
<circle cx="904.0" cy="343.0" r="5.5"/>
<circle cx="902.0" cy="350.0" r="5.5"/>
<circle cx="904.0" cy="373.0" r="5.5"/>
<circle cx="905.0" cy="378.0" r="5.5"/>
<circle cx="916.6" cy="373.0" r="5.5"/>
<circle cx="910.0" cy="387.0" r="5.5"/>
<circle cx="916.6" cy="356.0" r="5.5"/>
<circle cx="927.0" cy="360.0" r="5.5"/>
<circle cx="935.4" cy="399.0" r="5.5"/>
<circle cx="950.0" cy="410.0" r="5.5"/>
<circle cx="953.0" cy="415.0" r="5.5"/>
<circle cx="963.0" cy="396.0" r="5.5"/>
<circle cx="963.0" cy="403.0" r="5.5"/>
<circle cx="981.4" cy="387.4" r="5.5"/>
<circle cx="1000.0" cy="387.0" r="5.5"/>
<circle cx="1010.0" cy="399.0" r="5.5"/>
<circle cx="1014.0" cy="387.0" r="5.5"/>
<circle cx="1016.0" cy="373.0" r="5.5"/>
<circle cx="1020.0" cy="370.0" r="5.5"/>
<circle cx="1028.0" cy="387.0" r="5.5"/>
<circle cx="1029.0" cy="410.0" r="5.5"/>
<circle cx="979.0" cy="369.0" r="5.5"/>
<circle cx="956.0" cy="375.0" r="5.5"/>
<circle cx="946.0" cy="368.0" r="5.5"/>
<circle cx="956.0" cy="356.0" r="5.5"/>
<circle cx="934.0" cy="340.0" r="5.5"/>
<circle cx="946.0" cy="348.0" r="5.5"/>
<circle cx="993.0" cy="367.0" r="5.5"/>
<circle cx="1007.0" cy="364.0" r="5.5"/>
<circle cx="976.0" cy="340.0" r="5.5"/>
<circle cx="1026.0" cy="358.0" r="5.5"/>
<circle cx="1147.0" cy="338.0" r="5.5"/>
<circle cx="1150.0" cy="341.0" r="5.5"/>
<circle cx="1099.0" cy="342.0" r="5.5"/>
<circle cx="1112.0" cy="340.0" r="5.5"/>
<circle cx="1121.4" cy="348.4" r="5.5"/>
<circle cx="1086.0" cy="347.6" r="5.5"/>
<circle cx="1082.4" cy="335.0" r="5.5"/>
<circle cx="1067.0" cy="338.0" r="5.5"/>
<circle cx="1048.0" cy="336.0" r="5.5"/>
<circle cx="1036.0" cy="347.0" r="5.5"/>
<circle cx="1138.0" cy="361.4" r="5.5"/>
<circle cx="1073.6" cy="361.4" r="5.5"/>
<circle cx="1051.0" cy="361.0" r="5.5"/>
<circle cx="1038.0" cy="362.0" r="5.5"/>
<circle cx="1146.6" cy="377.0" r="5.5"/>
<circle cx="1146.6" cy="383.6" r="5.5"/>
<circle cx="1100.4" cy="390.0" r="5.5"/>
<circle cx="1072.4" cy="377.0" r="5.5"/>
<circle cx="1064.0" cy="372.0" r="5.5"/>
<circle cx="1047.0" cy="370.0" r="5.5"/>
<circle cx="1044.0" cy="377.0" r="5.5"/>
<circle cx="1058.0" cy="384.0" r="5.5"/>
<circle cx="1061.0" cy="387.0" r="5.5"/>
<circle cx="1158.6" cy="401.6" r="5.5"/>
<circle cx="1122.0" cy="409.4" r="5.5"/>
<circle cx="1193.6" cy="407.6" r="5.5"/>
<circle cx="1192.4" cy="414.0" r="5.5"/>
<circle cx="1192.0" cy="420.0" r="5.5"/>
<circle cx="1037.0" cy="403.0" r="5.5"/>
<circle cx="1034.0" cy="411.0" r="5.5"/>
<circle cx="1042.0" cy="415.0" r="5.5"/>
<circle cx="1053.6" cy="405.6" r="5.5"/>
<circle cx="1065.6" cy="410.6" r="5.5"/>
<circle cx="1073.4" cy="421.0" r="5.5"/>
<circle cx="1154.6" cy="436.4" r="5.5"/>
<circle cx="1202.6" cy="444.4" r="5.5"/>
<circle cx="1101.6" cy="440.4" r="5.5"/>
<circle cx="1073.4" cy="445.4" r="5.5"/>
<circle cx="1039.0" cy="433.0" r="5.5"/>
<circle cx="1036.0" cy="435.0" r="5.5"/>
<circle cx="1043.4" cy="445.6" r="5.5"/>
<circle cx="1060.0" cy="453.4" r="5.5"/>
<circle cx="1143.0" cy="470.0" r="5.5"/>
<circle cx="1052.4" cy="472.6" r="5.5"/>
<circle cx="1066.6" cy="473.0" r="5.5"/>
<circle cx="1073.0" cy="470.0" r="5.5"/>
<circle cx="1037.4" cy="480.4" r="5.5"/>
<circle cx="856.0" cy="527.4" r="5.5"/>
<circle cx="971.0" cy="529.6" r="5.5"/>
<circle cx="968.6" cy="496.0" r="5.5"/>
<circle cx="1044.6" cy="499.6" r="5.5"/>
<circle cx="1087.6" cy="502.6" r="5.5"/>
<circle cx="1049.0" cy="87.8" r="5.5"/>
<circle cx="988.5" cy="136.4" r="5.5"/>
<circle cx="1130.2" cy="253.9" r="5.5"/>
<circle cx="872.6" cy="343.1" r="5.5"/>
<circle cx="975.4" cy="171.5" r="5.5"/>
<circle cx="1069.6" cy="340.9" r="5.5"/>
<circle cx="1027.8" cy="400.7" r="5.5"/>
<circle cx="865.4" cy="306.4" r="5.5"/>
<circle cx="1061.4" cy="351.1" r="5.5"/>
<circle cx="919.0" cy="228.9" r="5.5"/>
<circle cx="1144.4" cy="195.5" r="5.5"/>
<circle cx="970.9" cy="175.7" r="5.5"/>
<circle cx="1133.9" cy="173.6" r="5.5"/>
<circle cx="1136.4" cy="187.3" r="5.5"/>
<circle cx="949.9" cy="227.8" r="5.5"/>
<circle cx="1030.7" cy="374.2" r="5.5"/>
<circle cx="1094.7" cy="292.1" r="5.5"/>
<circle cx="928.5" cy="255.4" r="5.5"/>
<circle cx="1047.6" cy="347.5" r="5.5"/>
<circle cx="966.7" cy="193.1" r="5.5"/>
<circle cx="1027.0" cy="361.5" r="5.5"/>
<circle cx="884.2" cy="351.7" r="5.5"/>
<circle cx="1100.8" cy="257.5" r="5.5"/>
<circle cx="1104.3" cy="244.1" r="5.5"/>
<circle cx="975.0" cy="179.9" r="5.5"/>
<circle cx="1081.1" cy="297.9" r="5.5"/>
<circle cx="1117.5" cy="171.9" r="5.5"/>
<circle cx="998.8" cy="377.3" r="5.5"/>
<circle cx="937.3" cy="256.9" r="5.5"/>
<circle cx="1042.6" cy="324.5" r="5.5"/>
<circle cx="900.6" cy="336.0" r="5.5"/>
<circle cx="1100.9" cy="174.7" r="5.5"/>
<circle cx="1109.4" cy="166.7" r="5.5"/>
<circle cx="1010.7" cy="362.0" r="5.5"/>
<circle cx="907.2" cy="314.8" r="5.5"/>
<circle cx="935.6" cy="419.8" r="5.5"/>
<circle cx="1076.6" cy="270.9" r="5.5"/>
<circle cx="924.9" cy="400.7" r="5.5"/>
<circle cx="1015.6" cy="362.5" r="5.5"/>
<circle cx="959.0" cy="220.3" r="5.5"/>
<circle cx="975.2" cy="402.3" r="5.5"/>
<circle cx="1005.2" cy="180.1" r="5.5"/>
<circle cx="1076.7" cy="282.0" r="5.5"/>
<circle cx="912.4" cy="377.7" r="5.5"/>
<circle cx="1080.9" cy="207.3" r="5.5"/>
<circle cx="1090.6" cy="180.4" r="5.5"/>
<circle cx="1029.3" cy="324.1" r="5.5"/>
<circle cx="1004.8" cy="358.4" r="5.5"/>
<circle cx="920.7" cy="356.1" r="5.5"/>
<circle cx="953.0" cy="249.6" r="5.5"/>
<circle cx="949.6" cy="268.3" r="5.5"/>
<circle cx="1061.6" cy="287.6" r="5.5"/>
<circle cx="945.0" cy="270.7" r="5.5"/>
<circle cx="1095.8" cy="211.2" r="5.5"/>
<circle cx="1081.3" cy="193.6" r="5.5"/>
<circle cx="970.9" cy="376.3" r="5.5"/>
<circle cx="994.2" cy="367.2" r="5.5"/>
<circle cx="1082.5" cy="181.7" r="5.5"/>
<circle cx="915.3" cy="338.7" r="5.5"/>
<circle cx="988.3" cy="215.1" r="5.5"/>
<circle cx="937.4" cy="384.6" r="5.5"/>
<circle cx="984.0" cy="216.6" r="5.5"/>
<circle cx="1064.1" cy="159.2" r="5.5"/>
<circle cx="1075.5" cy="269.5" r="5.5"/>
<circle cx="1009.9" cy="356.1" r="5.5"/>
<circle cx="1054.2" cy="298.4" r="5.5"/>
<circle cx="929.5" cy="316.4" r="5.5"/>
<circle cx="927.7" cy="334.4" r="5.5"/>
<circle cx="1074.9" cy="203.8" r="5.5"/>
<circle cx="1027.6" cy="191.3" r="5.5"/>
<circle cx="947.2" cy="279.6" r="5.5"/>
<circle cx="999.6" cy="223.9" r="5.5"/>
<circle cx="964.2" cy="263.4" r="5.5"/>
<circle cx="958.3" cy="354.8" r="5.5"/>
<circle cx="937.4" cy="311.8" r="5.5"/>
<circle cx="943.5" cy="291.4" r="5.5"/>
<circle cx="991.1" cy="346.7" r="5.5"/>
<circle cx="1038.3" cy="301.3" r="5.5"/>
<circle cx="1048.4" cy="194.6" r="5.5"/>
<circle cx="947.7" cy="324.3" r="5.5"/>
<circle cx="988.3" cy="348.3" r="5.5"/>
<circle cx="1021.5" cy="199.7" r="5.5"/>
<circle cx="959.8" cy="258.2" r="5.5"/>
<circle cx="950.8" cy="352.0" r="5.5"/>
<circle cx="1007.5" cy="205.4" r="5.5"/>
<circle cx="987.8" cy="222.8" r="5.5"/>
<circle cx="961.6" cy="366.8" r="5.5"/>
<circle cx="1020.7" cy="208.4" r="5.5"/>
<circle cx="1002.1" cy="346.6" r="5.5"/>
<circle cx="963.7" cy="355.0" r="5.5"/>
<circle cx="982.4" cy="230.2" r="5.5"/>
<circle cx="981.4" cy="247.6" r="5.5"/>
<circle cx="954.4" cy="346.1" r="5.5"/>
<circle cx="1012.9" cy="331.6" r="5.5"/>
<circle cx="1043.3" cy="291.9" r="5.5"/>
<circle cx="1052.7" cy="205.9" r="5.5"/>
<circle cx="939.6" cy="330.3" r="5.5"/>
<circle cx="970.2" cy="246.7" r="5.5"/>
<circle cx="1058.2" cy="205.9" r="5.5"/>
<circle cx="953.0" cy="290.6" r="5.5"/>
<circle cx="1030.8" cy="204.3" r="5.5"/>
<circle cx="1060.2" cy="234.6" r="5.5"/>
<circle cx="1007.1" cy="216.0" r="5.5"/>
<circle cx="955.0" cy="349.8" r="5.5"/>
<circle cx="1010.4" cy="201.0" r="5.5"/>
<circle cx="1024.0" cy="309.8" r="5.5"/>
<circle cx="1014.9" cy="205.6" r="5.5"/>
<circle cx="1025.0" cy="318.5" r="5.5"/>
<circle cx="1069.7" cy="249.7" r="5.5"/>
<circle cx="1038.3" cy="296.9" r="5.5"/>
<circle cx="1028.7" cy="280.9" r="5.5"/>
<circle cx="979.2" cy="271.6" r="5.5"/>
<circle cx="1031.2" cy="273.3" r="5.5"/>
<circle cx="1037.2" cy="213.7" r="5.5"/>
<circle cx="955.0" cy="299.6" r="5.5"/>
<circle cx="994.3" cy="234.9" r="5.5"/>
<circle cx="983.6" cy="326.9" r="5.5"/>
<circle cx="964.6" cy="333.6" r="5.5"/>
<circle cx="1046.8" cy="230.1" r="5.5"/>
<circle cx="1035.7" cy="260.0" r="5.5"/>
<circle cx="1046.5" cy="253.2" r="5.5"/>
<circle cx="973.9" cy="319.4" r="5.5"/>
<circle cx="980.3" cy="323.4" r="5.5"/>
<circle cx="1036.3" cy="279.9" r="5.5"/>
<circle cx="1019.9" cy="216.5" r="5.5"/>
<circle cx="1036.8" cy="258.8" r="5.5"/>
<circle cx="981.8" cy="253.5" r="5.5"/>
<circle cx="966.2" cy="342.0" r="5.5"/>
<circle cx="1005.5" cy="232.0" r="5.5"/>
<circle cx="1012.5" cy="240.3" r="5.5"/>
<circle cx="970.0" cy="318.3" r="5.5"/>
<circle cx="964.6" cy="344.5" r="5.5"/>
<circle cx="965.5" cy="292.3" r="5.5"/>
<circle cx="1035.2" cy="218.6" r="5.5"/>
<circle cx="971.7" cy="288.9" r="5.5"/>
<circle cx="1021.9" cy="221.7" r="5.5"/>
<circle cx="980.8" cy="317.9" r="5.5"/>
<circle cx="1049.3" cy="260.7" r="5.5"/>
<circle cx="989.0" cy="263.0" r="5.5"/>
<circle cx="981.9" cy="268.8" r="5.5"/>
<circle cx="964.9" cy="303.7" r="5.5"/>
<circle cx="983.8" cy="262.5" r="5.5"/>
<circle cx="960.8" cy="305.5" r="5.5"/>
<circle cx="961.3" cy="328.6" r="5.5"/>
<circle cx="1011.3" cy="300.0" r="5.5"/>
<circle cx="1032.2" cy="215.6" r="5.5"/>
<circle cx="1002.9" cy="312.7" r="5.5"/>
<circle cx="967.2" cy="316.6" r="5.5"/>
<circle cx="1010.6" cy="238.8" r="5.5"/>
<circle cx="1042.5" cy="209.6" r="5.5"/>
<circle cx="1034.7" cy="269.9" r="5.5"/>
<circle cx="970.6" cy="338.0" r="5.5"/>
<circle cx="1011.2" cy="314.8" r="5.5"/>
<circle cx="971.5" cy="273.7" r="5.5"/>
<circle cx="977.8" cy="274.0" r="5.5"/>
<circle cx="992.0" cy="324.1" r="5.5"/>
<circle cx="996.7" cy="312.5" r="5.5"/>
<circle cx="998.2" cy="329.4" r="5.5"/>
<circle cx="1021.5" cy="224.8" r="5.5"/>
<circle cx="1016.9" cy="254.5" r="5.5"/>
<circle cx="1001.2" cy="269.2" r="5.5"/>
<circle cx="994.7" cy="265.8" r="5.5"/>
<circle cx="997.7" cy="284.2" r="5.5"/>
<circle cx="1022.8" cy="262.4" r="5.5"/>
<circle cx="1019.0" cy="278.8" r="5.5"/>
<circle cx="993.0" cy="264.7" r="5.5"/>
<circle cx="999.5" cy="283.2" r="5.5"/>
<circle cx="1026.2" cy="258.0" r="5.5"/>
<circle cx="1006.3" cy="253.6" r="5.5"/>
<circle cx="977.1" cy="305.5" r="5.5"/>
<circle cx="1007.9" cy="246.0" r="5.5"/>
<circle cx="974.7" cy="297.9" r="5.5"/>
<circle cx="1013.4" cy="288.3" r="5.5"/>
<circle cx="1028.9" cy="241.6" r="5.5"/>
<circle cx="1028.0" cy="239.9" r="5.5"/>
<circle cx="996.8" cy="302.8" r="5.5"/>
<circle cx="985.7" cy="297.4" r="5.5"/>
<circle cx="1000.4" cy="260.7" r="5.5"/>
<circle cx="975.5" cy="304.0" r="5.5"/>
<circle cx="1011.8" cy="280.4" r="5.5"/>
<circle cx="1010.7" cy="281.7" r="5.5"/>
<circle cx="997.9" cy="300.2" r="5.5"/>
</g>
<!-- boxes -->
<rect x="82.2" y="583" width="295.3" height="198.2" rx="37" ry="37" fill="#8fd14f" stroke="#161a12" stroke-width="2.7"/>
<rect x="667.2" y="583" width="691.6" height="198.2" rx="37" ry="37" fill="#fac710" stroke="#1a1812" stroke-width="2.7"/>
<text class="sans" font-size="48.73" fill="#1a1a1a" transform="translate(175.80 660.51) scale(0.9568 1)">ICLA</text>
<text class="serif" font-size="64.24" fill="#000000" transform="translate(118.76 732.76) scale(1.1598 1)">Σ</text>
<text class="serif" font-style="italic" font-size="36.62" fill="#000000" transform="translate(165.33 742.63) scale(1.1431 1)">θ</text>
<text class="light" font-size="79.00" fill="#000000" transform="translate(204.13 742.79) scale(0.8188 1)">=</text>
<text class="serif" font-style="italic" font-size="61.97" fill="#000000" transform="translate(279.05 733.38) scale(1.1002 1)">λ</text>
<text class="serif" font-style="italic" font-size="64.24" fill="#000000" transform="translate(310.77 732.76) scale(1.1974 1)">I</text>
<text class="sans" font-size="50.14" fill="#1a1a1a" transform="translate(955.96 661.00) scale(0.9324 1)">LLLA</text>
<text class="serif" font-size="46.06" fill="#000000" transform="translate(698.41 728.94) scale(1.1494 1)">Σ</text>
<text class="serif" font-style="italic" font-size="25.35" fill="#000000" transform="translate(730.60 736.75) scale(1.3760 1)">θ</text>
<text class="serif" font-size="46.40" fill="#000000" transform="translate(763.33 734.14) scale(1.4368 1)">=</text>
<text class="math" font-size="44.66" fill="#ff2200" transform="translate(809.72 730.15) scale(1.1713 1)">∇</text>
<text class="serif" font-size="29.85" fill="#ff2200" transform="translate(853.07 710.70) scale(1.1112 1)">2</text>
<text class="serif" font-style="italic" font-size="26.76" fill="#ff2200" transform="translate(852.70 742.73) scale(1.2166 1)">θ</text>
<text class="serif" font-size="47.33" fill="#ff2200" transform="translate(880.04 729.06) scale(1.0108 1)">log</text>
<text class="serif" font-size="50.00" fill="#ff2200" transform="translate(944.37 729.00) scale(0.7630 1)">(</text>
<text class="serif" font-style="italic" font-size="46.38" fill="#ff2200" transform="translate(961.45 729.26) scale(0.9520 1)">p</text>
<text class="serif" font-size="50.00" fill="#ff2200" transform="translate(985.74 729.00) scale(0.8296 1)">(</text>
<text class="math" font-size="36.88" fill="#ff2200" transform="translate(999.32 728.39) scale(1.2468 1)">𝒟</text>
<text class="serif" font-size="50.55" fill="#ff2200" transform="translate(1040.27 729.38) scale(0.6594 1)">|</text>
<text class="serif" font-style="italic" font-size="45.63" fill="#ff2200" transform="translate(1050.45 729.54) scale(1.0141 1)">θ</text>
<text class="serif" font-size="50.00" fill="#ff2200" transform="translate(1075.30 729.00) scale(0.8000 1)">)</text>
<text class="serif" font-size="50.00" fill="#ff2200" transform="translate(1093.41 729.00) scale(0.8615 1)">)</text>
<text class="serif" font-size="50.55" fill="#ff2200" transform="translate(1113.87 729.38) scale(0.6594 1)">|</text>
<text class="serif" font-style="italic" font-size="29.30" fill="#ff2200" transform="translate(1123.47 737.11) scale(1.3098 1)">θ</text>
<text class="serif" font-size="25.82" fill="#ff2200" transform="translate(1141.76 742.34) scale(1.2382 1)">MAP</text>
<text class="light" font-size="47.19" fill="#000000" transform="translate(1225.08 732.53) scale(1.0000 1)">+</text>
<text class="serif" font-style="italic" font-size="46.76" fill="#000000" transform="translate(1277.92 729.13) scale(1.0110 1)">λ</text>
<text class="serif" font-style="italic" font-size="47.58" fill="#000000" transform="translate(1303.83 728.52) scale(1.1156 1)">I</text>

</svg>
</body></html>
